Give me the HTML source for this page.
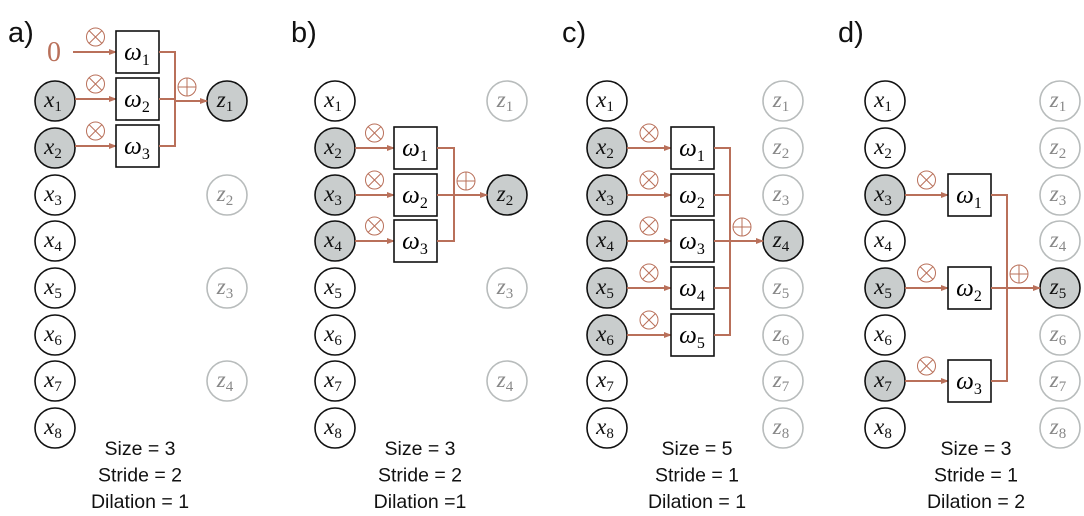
<!DOCTYPE html>
<html><head><meta charset="utf-8"><style>
html,body{margin:0;padding:0;background:#fff;width:1084px;height:516px;overflow:hidden}
svg text{font-family:"Liberation Serif",serif}
.cap{font-family:"Liberation Sans",sans-serif;font-size:19.5px;fill:#111}
.lab{font-family:"Liberation Sans",sans-serif;font-size:29px;fill:#111}
</style></head><body>
<svg id="s" width="1084" height="516" xmlns="http://www.w3.org/2000/svg">
<defs><marker id="ar" markerWidth="8" markerHeight="8" refX="7" refY="4" orient="auto" markerUnits="userSpaceOnUse"><path d="M0,1 L8,4 L0,7 z" fill="#b9705a"/></marker></defs>
</svg>
<script>
const S=document.getElementById('s');let h='';
const O='#b9705a';
const rows=[101,148,195,241,288,335,381,428];
function circ(cx,cy,name,sub,mode){
 let fill=mode==1?'#c9cdcd':'#fff',st=mode==2?'#b8bcbc':'#111',tc=mode==2?'#888':'#111';
 h+=`<circle cx="${cx}" cy="${cy}" r="20" fill="${fill}" stroke="${st}" stroke-width="1.6"/>`;
 h+=`<text x="${cx-2}" y="${cy+6}" text-anchor="middle" font-size="23" font-style="italic" fill="${tc}">${name}<tspan font-size="15" font-style="normal" dy="4">${sub}</tspan></text>`;
}
function box(x,cy,k){h+=`<rect x="${x}" y="${cy-21}" width="43" height="42" fill="#fff" stroke="#111" stroke-width="1.6"/>`;
 h+=`<text x="${x+21}" y="${cy+8}" text-anchor="middle" font-size="25" font-style="italic">ω<tspan font-size="16" font-style="normal" dy="5">${k}</tspan></text>`;}
function otimes(cx,cy){h+=`<circle cx="${cx}" cy="${cy}" r="9" fill="none" stroke="${O}" stroke-width="1"/><path d="M${cx-6.4},${cy-6.4}L${cx+6.4},${cy+6.4}M${cx+6.4},${cy-6.4}L${cx-6.4},${cy+6.4}" stroke="${O}" stroke-width="1"/>`;}
function oplus(cx,cy){h+=`<circle cx="${cx}" cy="${cy}" r="9" fill="none" stroke="${O}" stroke-width="1"/><path d="M${cx-9},${cy}L${cx+9},${cy}M${cx},${cy-9}L${cx},${cy+9}" stroke="${O}" stroke-width="1"/>`;}
function panel(P){
 const {xc,bx,mx,zc,inRows,boxRows,zIn,zOut,zTarget,lab,lx,cap,capx}=P;
 for(let i=0;i<8;i++) circ(xc,rows[i],'x',i+1,inRows.includes(i)?1:0);
 zOut.forEach((r,j)=>circ(zc,r,'z',zIn[j],zIn[j]==P.active?1:2));
 boxRows.forEach((r,k)=>{
  let sx=(P.zero&&k==0)?xc+18:xc+20;
  h+=`<line x1="${sx}" y1="${r}" x2="${bx}" y2="${r}" stroke="${O}" stroke-width="2" marker-end="url(#ar)"/>`;
  otimes((xc+bx)/2+10,r-15);box(bx,r,k+1);
  h+=`<line x1="${bx+43}" y1="${r}" x2="${mx}" y2="${r}" stroke="${O}" stroke-width="2"/>`;
 });
 h+=`<line x1="${mx}" y1="${boxRows[0]-1}" x2="${mx}" y2="${boxRows[boxRows.length-1]+1}" stroke="${O}" stroke-width="2"/>`;
 h+=`<line x1="${mx}" y1="${zTarget}" x2="${zc-20}" y2="${zTarget}" stroke="${O}" stroke-width="2" marker-end="url(#ar)"/>`;
 oplus(mx+12,zTarget-14);
 h+=`<text class="lab" x="${lx}" y="42">${lab}</text>`;
 cap.forEach((t,i)=>h+=`<text class="cap" x="${capx}" y="${455+i*26.5}" text-anchor="middle">${t}</text>`);
}
panel({xc:55,bx:116,mx:175,zc:227,inRows:[0,1],boxRows:[52,99,146],zIn:[1,2,3,4],zOut:[101,195,288,381],active:1,zTarget:101,lab:'a)',lx:8,cap:['Size = 3','Stride = 2','Dilation = 1'],capx:140,zero:true});
h+=`<text x="54" y="61" text-anchor="middle" font-size="28" fill="${O}">0</text>`;
panel({xc:335,bx:394,mx:454,zc:507,inRows:[1,2,3],boxRows:[148,195,241],zIn:[1,2,3,4],zOut:[101,195,288,381],active:2,zTarget:195,lab:'b)',lx:291,cap:['Size = 3','Stride = 2','Dilation =1'],capx:420});
panel({xc:607,bx:671,mx:730,zc:783,inRows:[1,2,3,4,5],boxRows:[148,195,241,288,335],zIn:[1,2,3,4,5,6,7,8],zOut:rows,active:4,zTarget:241,lab:'c)',lx:562,cap:['Size = 5','Stride = 1','Dilation = 1'],capx:697});
panel({xc:885,bx:948,mx:1007,zc:1060,inRows:[2,4,6],boxRows:[195,288,381],zIn:[1,2,3,4,5,6,7,8],zOut:rows,active:5,zTarget:288,lab:'d)',lx:838,cap:['Size = 3','Stride = 1','Dilation = 2'],capx:976});
S.insertAdjacentHTML('beforeend',h);
</script>
</body></html>
